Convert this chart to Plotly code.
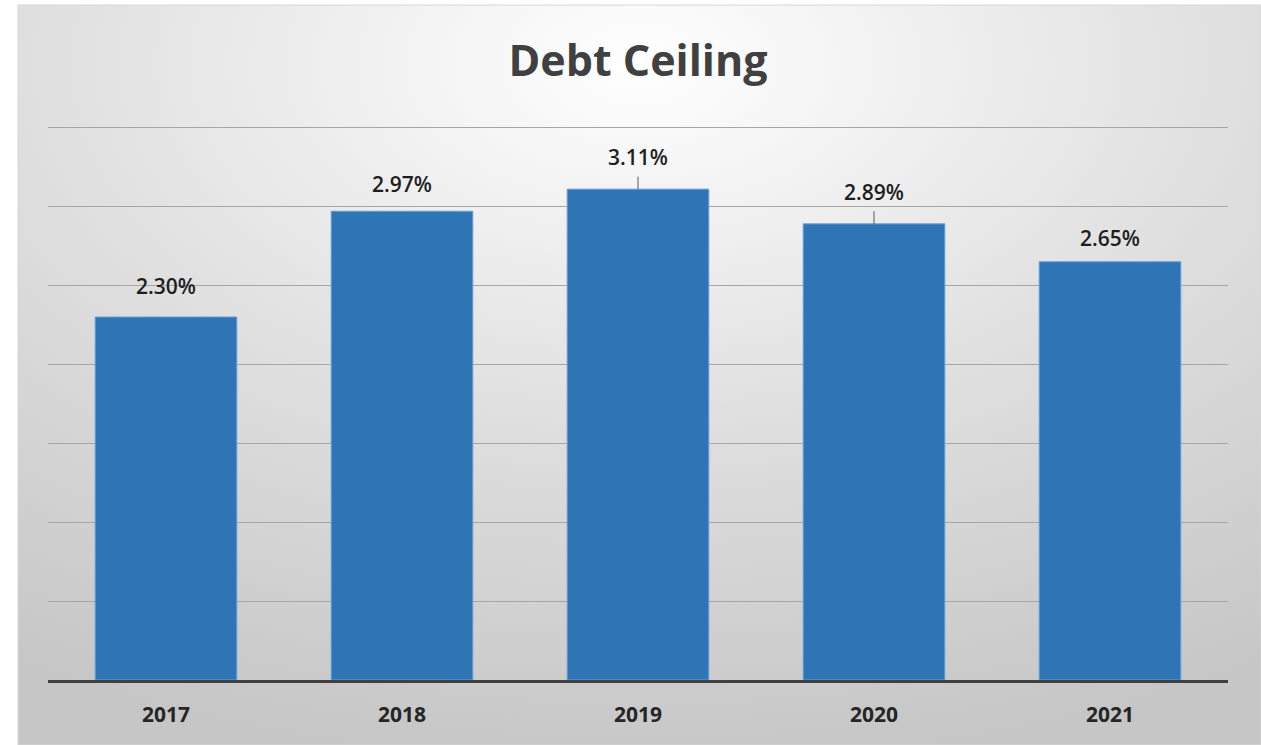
import base64
import plotly.graph_objects as go

# Chart data
years = ["2017", "2018", "2019", "2020", "2021"]
rates = [2.30, 2.97, 3.11, 2.89, 2.65]
labels = ["2.30%", "2.97%", "3.11%", "2.89%", "2.65%"]

# Label placement (pixels above bar top) and which labels get a leader line
label_lift = [31, 27, 32, 32, 24]
leader = [False, False, True, True, False]

BAR_COLOR = "#2E75B6"
FONT = "Open Sans"

# Radial gray gradient used as the chart-area background
W, H = 1243, 740
svg = f'''<svg xmlns="http://www.w3.org/2000/svg" width="{W}" height="{H}" viewBox="0 0 {W} {H}" preserveAspectRatio="none">
<defs><radialGradient id="g" cx="50%" cy="8%" r="95%" fx="50%" fy="8%">
<stop offset="0" stop-color="#ffffff"/>
<stop offset="0.5" stop-color="#e0e0e0"/>
<stop offset="1" stop-color="#c6c6c6"/>
</radialGradient></defs>
<rect width="{W}" height="{H}" fill="url(#g)"/>
</svg>'''
bg_src = "data:image/svg+xml;base64," + base64.b64encode(svg.encode()).decode()

fig = go.Figure()
fig.add_trace(go.Bar(
    x=years, y=rates,
    marker=dict(color=BAR_COLOR, line=dict(color="#6a9fd6", width=1)),
    width=0.6,
    hoverinfo="skip",
))

# Value labels; x is given as the category index so numeric-looking
# year strings are not read as coordinates
label_font = dict(family=FONT, size=21, color="#1e1e1e", weight=600)
annotations = []
for i, (v, txt, lift, ld) in enumerate(zip(rates, labels, label_lift, leader)):
    if ld:
        annotations.append(dict(
            x=i, y=v, xref="x", yref="y", text=txt,
            showarrow=True, arrowhead=0, arrowwidth=1, arrowcolor="#595959",
            ax=0, ay=-lift, axref="pixel", ayref="pixel", startstandoff=4,
            font=label_font,
        ))
    else:
        annotations.append(dict(
            x=i, y=v, xref="x", yref="y", text=txt, showarrow=False,
            yshift=lift, yanchor="middle",
            font=label_font,
        ))

ml, mr, mt, mb = 48, 33, 126, 65
pw, ph = 1261 - ml - mr, 745 - mt - mb

fig.update_layout(
    width=1261, height=745,
    margin=dict(l=ml, r=mr, t=mt, b=mb),
    paper_bgcolor="white",
    plot_bgcolor="rgba(0,0,0,0)",
    showlegend=False,
    title=dict(
        text="<b>Debt Ceiling</b>",
        x=0.5, xref="paper", xanchor="center",
        y=1 - 61 / 745, yref="container", yanchor="middle",
        font=dict(family=FONT, size=43, color="#404040"),
    ),
    bargap=0.4,
    xaxis=dict(
        type="category", range=[-0.5, 4.5], autorange=False,
        showgrid=False, showline=True, linecolor="#404040", linewidth=3,
        ticks="outside", ticklen=14, tickcolor="rgba(0,0,0,0)",
        tickfont=dict(family=FONT, size=21, color="#262626", weight="bold"),
        fixedrange=True,
    ),
    yaxis=dict(
        range=[0, 3.51], autorange=False, tick0=0, dtick=0.5, showgrid=True,
        gridcolor="#a6a6a6", gridwidth=1,
        zeroline=False, showticklabels=False, ticks="", fixedrange=True,
    ),
    annotations=annotations,
    images=[dict(
        source=bg_src, xref="paper", yref="paper",
        x=(18 - ml) / pw, y=(745 - mb - 5) / ph,
        sizex=W / pw, sizey=H / ph,
        xanchor="left", yanchor="top", sizing="stretch", layer="below",
    )],
    shapes=[dict(
        type="rect", xref="paper", yref="paper",
        x0=(18 - ml) / pw, x1=(1261 - ml) / pw,
        y0=(745 - mb - 745) / ph, y1=(745 - mb - 5) / ph,
        line=dict(color="#d6d6d6", width=1), layer="below",
    )],
)

fig.write_html("out.html")
